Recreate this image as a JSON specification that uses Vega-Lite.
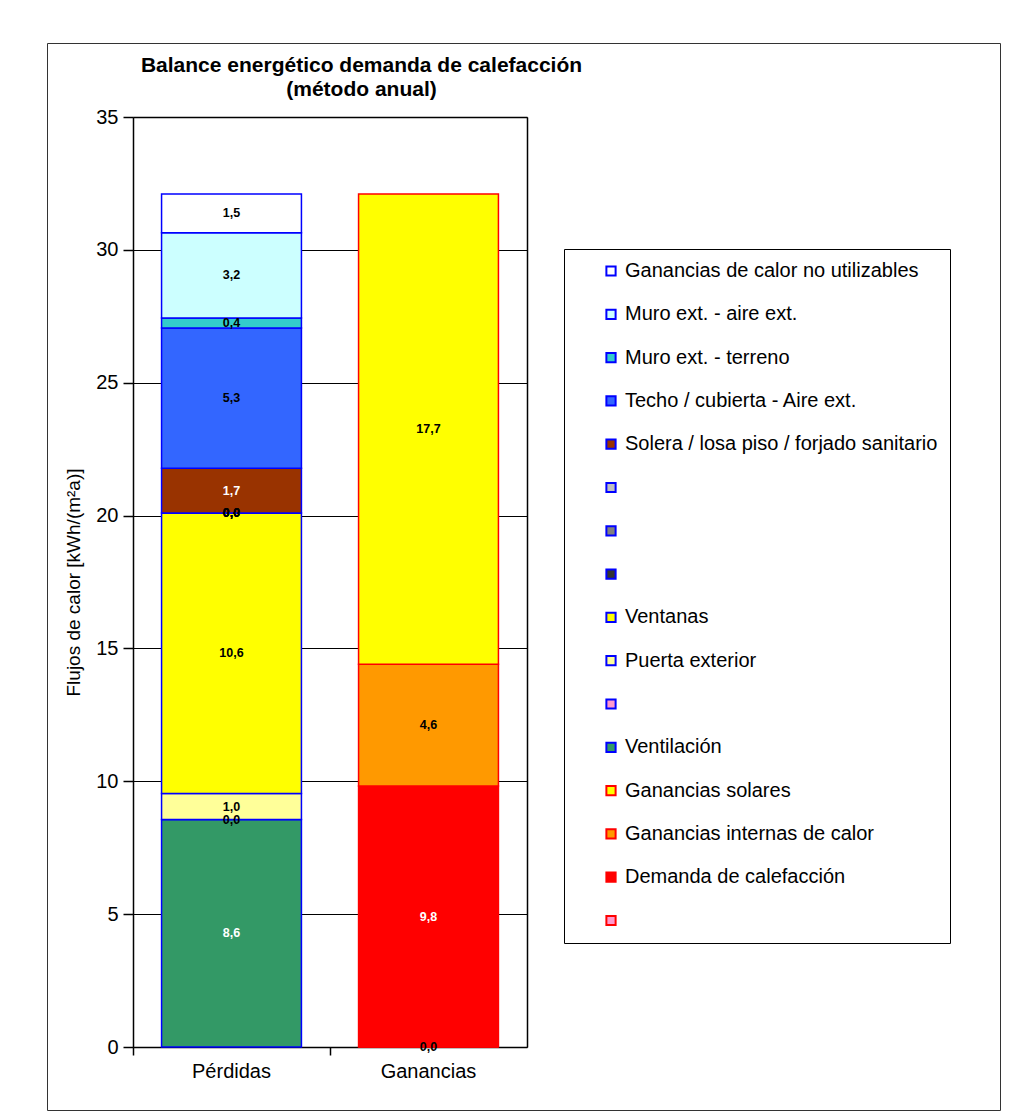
{
  "$schema": "https://vega.github.io/schema/vega-lite/v6.json",
  "width": 953,
  "height": 1067,
  "autosize": "none",
  "padding": {"left": 47, "top": 43, "right": 24, "bottom": 2},
  "background": "white",
  "title": {
    "text": ["Balance energético demanda de calefacción", "(método anual)"],
    "font": "Liberation Sans",
    "fontSize": 21,
    "fontWeight": "bold",
    "color": "black",
    "anchor": "middle",
    "frame": "group",
    "dx": -162,
    "offset": -57,
    "lineHeight": 24
  },
  "config": {
    "font": "Liberation Sans",
    "view": {"stroke": "#333333", "strokeWidth": 1},
    "locale": {
      "number": {"decimal": ",", "thousands": ".", "grouping": [3], "currency": ["", " €"]}
    }
  },
  "data": {
    "values": [
      {"grupo": "Ganancias", "serie": "     ", "valor": 0},
      {"grupo": "Ganancias", "serie": "Demanda de calefacción", "valor": 9.82},
      {"grupo": "Ganancias", "serie": "Ganancias internas de calor", "valor": 4.58},
      {"grupo": "Ganancias", "serie": "Ganancias solares", "valor": 17.7},
      {"grupo": "Pérdidas", "serie": "Ventilación", "valor": 8.56},
      {"grupo": "Pérdidas", "serie": "    ", "valor": 0},
      {"grupo": "Pérdidas", "serie": "Puerta exterior", "valor": 0.98},
      {"grupo": "Pérdidas", "serie": "Ventanas", "valor": 10.56},
      {"grupo": "Pérdidas", "serie": "   ", "valor": 0},
      {"grupo": "Pérdidas", "serie": "  ", "valor": 0},
      {"grupo": "Pérdidas", "serie": " ", "valor": 0},
      {"grupo": "Pérdidas", "serie": "Solera / losa piso / forjado sanitario", "valor": 1.68},
      {"grupo": "Pérdidas", "serie": "Techo / cubierta - Aire ext.", "valor": 5.28},
      {"grupo": "Pérdidas", "serie": "Muro ext. - terreno", "valor": 0.38},
      {"grupo": "Pérdidas", "serie": "Muro ext. - aire ext.", "valor": 3.2},
      {"grupo": "Pérdidas", "serie": "Ganancias de calor no utilizables", "valor": 1.46}
    ]
  },
  "transform": [
    {"stack": "valor", "groupby": ["grupo"], "as": ["v0", "v1"]},
    {"calculate": "(datum.v0 + datum.v1) / 2", "as": "vmid"}
  ],
  "layer": [
    {
      "mark": {"type": "bar", "strokeWidth": 1.5},
      "encoding": {
        "x": {
          "field": "grupo",
          "type": "nominal",
          "scale": {"type": "band", "domain": ["Pérdidas", "Ganancias"], "range": [86, 480], "paddingInner": 0.29, "paddingOuter": 0.145},
          "axis": {
            "orient": "bottom",
            "offset": -63,
            "title": null,
            "labelAngle": 0,
            "labelFontSize": 20,
            "labelColor": "black",
            "labelPadding": 6,
            "domainColor": "black",
            "domainWidth": 1.5,
            "tickColor": "black",
            "tickWidth": 1.5,
            "tickSize": 8,
            "bandPosition": -0.204,
            "grid": false
          }
        },
        "y": {
          "field": "v1",
          "type": "quantitative",
          "scale": {"domain": [0, 35], "range": [1004, 74], "nice": false},
          "axis": {
            "orient": "left",
            "offset": -86,
            "values": [0, 5, 10, 15, 20, 25, 30, 35],
            "format": "d",
            "title": "Flujos de calor [kWh/(m²a)]",
            "titleFontSize": 19,
            "titleFontWeight": "normal",
            "titleColor": "black",
            "titlePadding": 12,
            "labelFontSize": 20,
            "labelColor": "black",
            "labelPadding": 5,
            "domainColor": "black",
            "domainWidth": 1.5,
            "tickColor": "black",
            "tickWidth": 1.5,
            "tickSize": 10,
            "grid": true,
            "gridColor": "black",
            "gridWidth": 1.2,
            "gridOpacity": 1
          }
        },
        "y2": {"field": "v0"},
        "fill": {
          "field": "serie",
          "type": "nominal",
          "scale": {
            "domain": [
              "Ganancias de calor no utilizables",
              "Muro ext. - aire ext.",
              "Muro ext. - terreno",
              "Techo / cubierta - Aire ext.",
              "Solera / losa piso / forjado sanitario",
              " ",
              "  ",
              "   ",
              "Ventanas",
              "Puerta exterior",
              "    ",
              "Ventilación",
              "Ganancias solares",
              "Ganancias internas de calor",
              "Demanda de calefacción",
              "     "
            ],
            "range": [
              "#FFFFFF", "#CCFFFF", "#33CCCC", "#3366FF", "#993300",
              "#C0C0C0", "#808080", "#333333", "#FFFF00", "#FFFF99",
              "#FF99CC", "#339966", "#FFFF00", "#FF9900", "#FF0000", "#FF99CC"
            ]
          },
          "legend": {
            "orient": "none",
            "legendX": 517,
            "legendY": 206,
            "title": null,
            "strokeColor": "black",
            "padding": 12,
            "symbolOffset": 25,
            "labelOffset": 4,
            "rowPadding": 23.3,
            "symbolType": "square",
            "symbolSize": 85,
            "symbolStrokeWidth": 2,
            "labelFontSize": 20,
            "labelColor": "black",
            "labelLimit": 500
          }
        },
        "stroke": {
          "field": "serie",
          "type": "nominal",
          "scale": {
            "domain": [
              "Ganancias de calor no utilizables",
              "Muro ext. - aire ext.",
              "Muro ext. - terreno",
              "Techo / cubierta - Aire ext.",
              "Solera / losa piso / forjado sanitario",
              " ",
              "  ",
              "   ",
              "Ventanas",
              "Puerta exterior",
              "    ",
              "Ventilación",
              "Ganancias solares",
              "Ganancias internas de calor",
              "Demanda de calefacción",
              "     "
            ],
            "range": [
              "#0000FF", "#0000FF", "#0000FF", "#0000FF", "#0000FF",
              "#0000FF", "#0000FF", "#0000FF", "#0000FF", "#0000FF",
              "#0000FF", "#0000FF", "#FF0000", "#FF0000", "#FF0000", "#FF0000"
            ]
          },
          "legend": {
            "orient": "none",
            "legendX": 517,
            "legendY": 206,
            "title": null,
            "strokeColor": "black",
            "padding": 12,
            "symbolOffset": 25,
            "labelOffset": 4,
            "rowPadding": 23.3,
            "symbolType": "square",
            "symbolSize": 85,
            "symbolStrokeWidth": 2,
            "labelFontSize": 20,
            "labelColor": "black",
            "labelLimit": 500
          }
        }
      }
    },
    {
      "mark": {"type": "text", "fontSize": 12.5, "fontWeight": "bold", "baseline": "middle", "align": "center"},
      "encoding": {
        "x": {
          "field": "grupo",
          "type": "nominal",
          "axis": {"orient": "top", "offset": -74, "title": null, "labels": false, "ticks": false, "grid": false, "domainColor": "black", "domainWidth": 1.5}
        },
        "y": {
          "field": "vmid",
          "type": "quantitative",
          "axis": {"orient": "right", "offset": -473, "title": null, "labels": false, "ticks": false, "grid": false, "domainColor": "black", "domainWidth": 1.5}
        },
        "text": {"field": "valor", "type": "quantitative", "format": ".1f"},
        "color": {
          "condition": {
            "test": "indexof(['Solera / losa piso / forjado sanitario', 'Ventilación', 'Demanda de calefacción'], datum.serie) >= 0",
            "value": "white"
          },
          "value": "black"
        }
      }
    }
  ],
  "resolve": {"axis": {"x": "independent", "y": "independent"}}
}
